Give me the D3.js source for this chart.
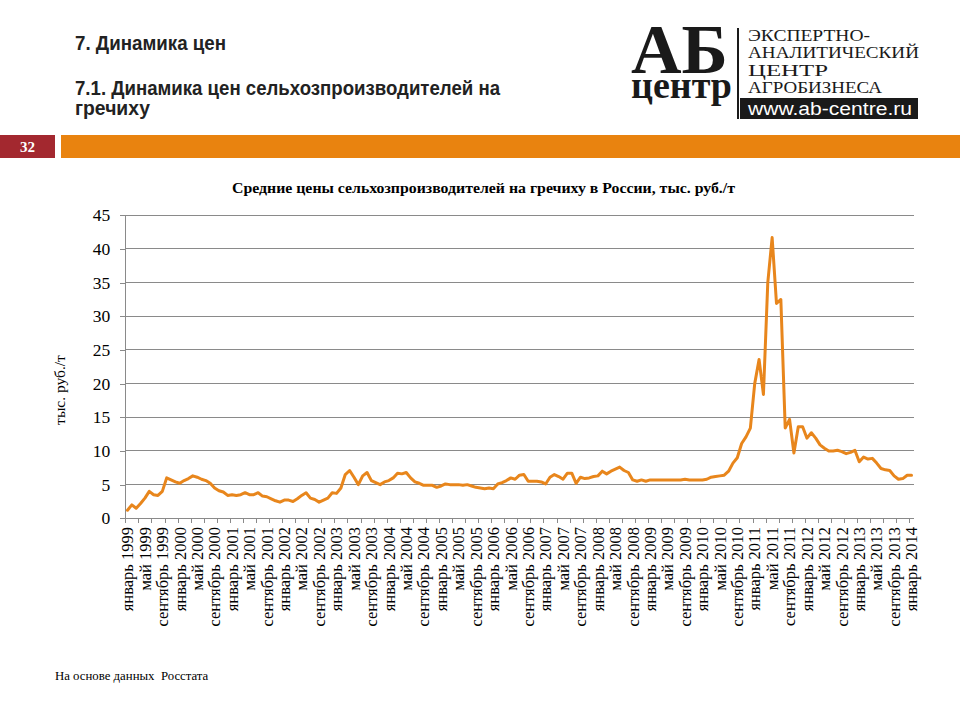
<!DOCTYPE html>
<html><head><meta charset="utf-8">
<script src="https://cdn.jsdelivr.net/npm/d3@7"></script>
<style>
html,body{margin:0;padding:0;background:#fff;}
#wrap{position:relative;width:960px;height:720px;}
svg{display:block;position:absolute;left:0;top:0;}
.logoBig{position:absolute;font-family:'Liberation Serif','Times New Roman',serif;font-weight:bold;color:#1a1a1a;
  width:100px;font-size:38px;line-height:24px;}
.logoBig::first-line{font-size:70px;line-height:46px;}
</style></head>
<body>
<div id="wrap"><svg id="c" width="960" height="720"></svg></div>
<script>
// ---- data ----
const monthNames = ["январь","февраль","март","апрель","май","июнь","июль","август","сентябрь","октябрь","ноябрь","декабрь"];
const years = [1999,2000,2001,2002,2003,2004,2005,2006,2007,2008,2009,2010,2011,2012,2013,2014];
// average producer prices for buckwheat, thous. rub/t, Jan 1999 .. Jan 2014 (monthly)
const prices = [
 1.2,2.0,1.5,2.2,3.0,4.0,3.5,3.4,4.0,6.0,5.7,5.4,           // 1999
 5.2,5.6,5.9,6.3,6.1,5.8,5.6,5.2,4.5,4.1,3.9,3.4,           // 2000
 3.5,3.4,3.5,3.8,3.5,3.5,3.8,3.3,3.2,2.9,2.6,2.4,           // 2001
 2.7,2.7,2.5,2.9,3.4,3.8,3.0,2.8,2.4,2.7,3.0,3.8,           // 2002
 3.7,4.5,6.5,7.1,6.1,5.0,6.3,6.8,5.6,5.3,5.0,5.4,           // 2003
 5.6,6.0,6.7,6.6,6.8,6.0,5.4,5.2,4.9,4.9,4.9,4.6,           // 2004
 4.8,5.1,5.0,5.0,5.0,4.9,5.0,4.8,4.6,4.5,4.4,4.5,           // 2005
 4.4,5.1,5.3,5.6,6.0,5.8,6.4,6.5,5.5,5.5,5.5,5.4,           // 2006
 5.1,6.1,6.5,6.2,5.8,6.7,6.7,5.2,6.1,5.9,6.0,6.2,           // 2007
 6.3,7.0,6.6,7.0,7.3,7.6,7.1,6.8,5.7,5.5,5.7,5.5,           // 2008
 5.7,5.7,5.7,5.7,5.7,5.7,5.7,5.7,5.8,5.7,5.7,5.7,           // 2009
 5.7,5.8,6.1,6.2,6.3,6.4,7.0,8.2,9.0,11.1,12.1,13.4,        // 2010
 20.0,23.6,18.4,35.0,41.7,31.9,32.5,13.4,14.7,9.7,13.6,13.6,// 2011
 11.9,12.7,11.9,10.9,10.4,10.0,10.0,10.1,9.9,9.6,9.8,10.1,  // 2012
 8.4,9.1,8.8,8.9,8.2,7.4,7.2,7.1,6.3,5.8,5.9,6.4,           // 2013
 6.4                                                       // 2014
];
const yTicks = [0,5,10,15,20,25,30,35,40,45];
const categories = prices.map((d,i)=> monthNames[i%12] + " " + years[Math.floor(i/12)]);
const labelEvery = 4, tickEvery = 3;

const chartTitle = "Средние цены сельхозпроизводителей на гречиху в России, тыс. руб./т";
const yTitle = "тыс. руб./т";
const heading1 = "7. Динамика цен";
const heading2a = "7.1. Динамика цен сельхозпроизводителей на";
const heading2b = "гречиху";
const pageNo = "32";
const source = "На основе данных  Росстата";
const logoWord = "АБ центр";
const logoLines = ["ЭКСПЕРТНО-","АНАЛИТИЧЕСКИЙ","ЦЕНТР","АГРОБИЗНЕСА"];
const logoUrl = "www.ab-centre.ru";

// ---- drawing ----
const svg = d3.select("#c");
const serif = "'Liberation Serif','Times New Roman',serif";
const sans = "'Liberation Sans Narrow','Liberation Sans',Arial,sans-serif";

function fitText(sel, w){ sel.attr("textLength", w).attr("lengthAdjust","spacingAndGlyphs"); return sel; }

// header texts
fitText(svg.append("text").attr("x",75).attr("y",50).attr("font-family",sans).attr("font-weight","bold")
  .attr("font-size",19.5).attr("fill","#222").text(heading1),151);
fitText(svg.append("text").attr("x",75).attr("y",95).attr("font-family",sans).attr("font-weight","bold")
  .attr("font-size",19.5).attr("fill","#222").text(heading2a),425);
fitText(svg.append("text").attr("x",75).attr("y",115).attr("font-family",sans).attr("font-weight","bold")
  .attr("font-size",19.5).attr("fill","#222").text(heading2b),75);

// logo word (one text block, first line larger)
d3.select("#wrap").append("div").attr("class","logoBig")
  .style("left","631px").style("top","27.4px").text(logoWord);

const logo = svg.append("g");
logo.append("line").attr("x1",738).attr("x2",738).attr("y1",28).attr("y2",119).attr("stroke","#1a1a1a").attr("stroke-width",2);
const lw = [122,171,80,134];
logoLines.forEach((t,i)=>{
  fitText(logo.append("text").attr("x",748).attr("y",41+i*17.3).attr("font-family",serif)
    .attr("font-size",16.5).attr("fill","#1a1a1a").text(t), lw[i]);
});
logo.append("rect").attr("x",740).attr("y",98).attr("width",178).attr("height",21).attr("fill","#1a1a1a");
fitText(logo.append("text").attr("x",748).attr("y",115).attr("font-family",sans)
  .attr("font-size",18).attr("fill","#fff").text(logoUrl),164);

// band
svg.append("rect").attr("x",0).attr("y",135).attr("width",55).attr("height",23).attr("fill","#a3282f");
svg.append("text").attr("x",27.5).attr("y",152).attr("text-anchor","middle").attr("font-family",serif)
  .attr("font-weight","bold").attr("font-size",15).attr("fill","#fff").text(pageNo);
svg.append("rect").attr("x",61).attr("y",135).attr("width",899).attr("height",23).attr("fill","#e9830f");

// chart title
fitText(svg.append("text").attr("x",232).attr("y",193).attr("font-family",serif)
  .attr("font-weight","bold").attr("font-size",15).attr("fill","#000").text(chartTitle),503);

// scales
const x = d3.scaleLinear().domain([0, prices.length]).range([125.3, 913.7]);
const y = d3.scaleLinear().domain([0,45]).range([518.3, 215.3]);

// gridlines
svg.append("g").selectAll("line").data(yTicks.filter(d=>d>0)).join("line")
  .attr("x1",x(0)).attr("x2",x(prices.length)).attr("y1",d=>y(d)).attr("y2",d=>y(d))
  .attr("stroke","#8a8a8a").attr("stroke-width",1).attr("shape-rendering","crispEdges");

// y axis
const yAxis = svg.append("g").attr("transform",`translate(${x(0)},0)`)
  .call(d3.axisLeft(y).tickValues(yTicks).tickSize(5).tickSizeOuter(0).tickPadding(10));
yAxis.selectAll("path,line").attr("stroke","#8a8a8a").attr("shape-rendering","crispEdges");
yAxis.selectAll("text").attr("font-family",serif).attr("font-size",17.5).attr("fill","#000");

// x axis
const xAxis = svg.append("g").attr("transform",`translate(0,${y(0)})`)
  .call(d3.axisBottom(x).tickValues(d3.range(0, prices.length, tickEvery)).tickSize(5).tickSizeOuter(0).tickFormat(""));
xAxis.selectAll("path,line").attr("stroke","#8a8a8a").attr("shape-rendering","crispEdges");

// x labels
const labelIdx = d3.range(0, prices.length, labelEvery);
svg.append("g").selectAll("text").data(labelIdx).join("text")
  .attr("transform", i=>`translate(${x(i+0.5)},527) rotate(-90)`)
  .attr("text-anchor","end").attr("dy","0.35em")
  .attr("font-family",serif).attr("font-size",16.5).attr("fill","#000")
  .text(i=>categories[i]);

// y title
svg.append("text").attr("transform","translate(65,390) rotate(-90)").attr("text-anchor","middle")
  .attr("font-family",serif).attr("font-size",15.5).attr("fill","#000").text(yTitle);

// line
const line = d3.line().x((d,i)=>x(i+0.5)).y(d=>y(d)).curve(d3.curveLinear);
svg.append("path").datum(prices).attr("d",line).attr("fill","none")
  .attr("stroke","#e8861c").attr("stroke-width",3).attr("stroke-linejoin","round").attr("stroke-linecap","round");

// source
svg.append("text").attr("x",55).attr("y",680).attr("font-family",serif).attr("font-size",12.8)
  .attr("fill","#000").attr("xml:space","preserve").text(source);
</script>
</body></html>
